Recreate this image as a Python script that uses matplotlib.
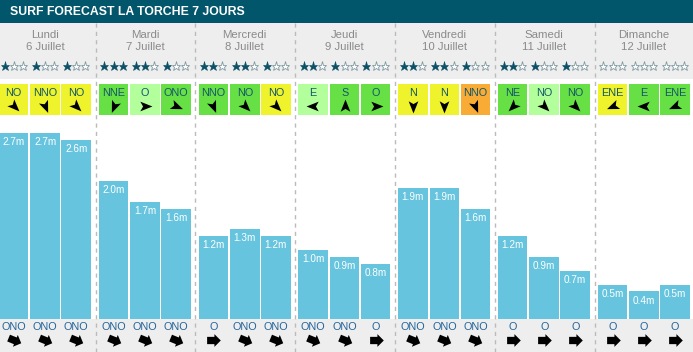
import numpy as np
import matplotlib.pyplot as plt
from matplotlib.path import Path
from matplotlib.markers import MarkerStyle
from matplotlib.transforms import Affine2D

plt.rcParams['font.family'] = ['Liberation Sans', 'DejaVu Sans']

title = "SURF FORECAST LA TORCHE 7 JOURS"
days = ["Lundi", "Mardi", "Mercredi", "Jeudi", "Vendredi", "Samedi", "Dimanche"]
dates = ["6 Juillet", "7 Juillet", "8 Juillet", "9 Juillet", "10 Juillet", "11 Juillet", "12 Juillet"]
stars = [[1, 1, 1], [3, 2, 1], [2, 2, 1], [2, 1, 1], [2, 2, 1], [2, 1, 1], [0, 0, 0]]
wind_dir = [["NO", "NNO", "NO"], ["NNE", "O", "ONO"], ["NNO", "NO", "NO"], ["E", "S", "O"],
            ["N", "N", "NNO"], ["NE", "NO", "NO"], ["ENE", "E", "ENE"]]
wind_rating = [["y", "y", "y"], ["g", "lg", "g"], ["g", "g", "y"], ["lg", "g", "g"],
               ["y", "y", "o"], ["g", "lg", "g"], ["y", "g", "g"]]
wave_m = [[2.7, 2.7, 2.6], [2.0, 1.7, 1.6], [1.2, 1.3, 1.2], [1.0, 0.9, 0.8],
          [1.9, 1.9, 1.6], [1.2, 0.9, 0.7], [0.5, 0.4, 0.5]]
swell_dir = [["ONO", "ONO", "ONO"], ["ONO", "ONO", "ONO"], ["O", "ONO", "ONO"], ["ONO", "ONO", "O"],
             ["ONO", "ONO", "ONO"], ["O", "O", "O"], ["O", "O", "O"]]

compass = {"N": 0, "NNE": 22.5, "NE": 45, "ENE": 67.5, "E": 90, "ESE": 112.5, "SE": 135,
           "SSE": 157.5, "S": 180, "SSO": 202.5, "SO": 225, "OSO": 247.5, "O": 270,
           "ONO": 292.5, "NO": 315, "NNO": 337.5}
box_colors = {"y": "#eef32c", "g": "#66e044", "lg": "#b2ff9c", "o": "#f8ac36"}

teal = "#02566b"
grey_bg = "#eeeeee"
bar_col = "#66c4de"

# layout (pixels)
W, H = 693, 352
day_w = 99.8
day0 = -4.3
offs = np.array([18, 49.5, 80.5])
xs = np.array([day0 + d * day_w + offs for d in range(7)])

dart = Path([(1, 0), (-0.75, 0.7), (-0.35, 0), (-0.75, -0.7), (1, 0)],
            [Path.MOVETO, Path.LINETO, Path.LINETO, Path.LINETO, Path.CLOSEPOLY])
block = Path([(-0.7, -0.4), (0.1, -0.4), (0.1, -0.7), (0.8, 0), (0.1, 0.7), (0.1, 0.4), (-0.7, 0.4), (-0.7, -0.4)],
             [Path.MOVETO] + [Path.LINETO] * 6 + [Path.CLOSEPOLY])


def arrow(ax, x, y, d, path, ms):
    ang = 270 - compass[d]
    m = MarkerStyle(path, transform=Affine2D().rotate_deg(ang))
    ax.plot(x, y, marker=m, ms=ms, color="black", mec="black", mew=0, ls="none")


fig = plt.figure(figsize=(W / 100, H / 100), dpi=100)
ax = fig.add_axes([0, 0, 1, 1])
ax.set_xlim(0, W)
ax.set_ylim(H, 0)
ax.axis("off")

ax.axhspan(0, 23, color=teal, lw=0)
ax.axhspan(23, 79, color=grey_bg, lw=0)
ax.axhspan(319, H, color=grey_bg, lw=0)
ax.text(10, 12, title, color="white", fontsize=8.8, fontweight="bold", va="center", ha="left")

for k in range(1, 7):
    sx = day0 + k * day_w
    ax.plot([sx, sx], [23, H], color="#bbbbbb", lw=1, ls=(0, (3, 3)))

for d in range(7):
    cx = day0 + d * day_w + 49.5
    ax.text(cx, 35, days[d], color="#8a8a8a", fontsize=8.2, ha="center", va="center")
    ax.text(cx, 47.5, dates[d], color="#8a8a8a", fontsize=8.2, ha="center", va="center")
    for s in range(3):
        x = xs[d, s]
        for j in range(3):
            sxp = x + (j - 1) * 9.2
            if j < stars[d][s]:
                ax.plot(sxp, 66, marker="*", ms=6.8, color="#0b5066", mec="#0b5066", mew=0.4, ls="none")
            else:
                ax.plot(sxp, 66, marker="*", ms=6.8, color="white", mec="#7f9aa3", mew=0.6, ls="none")
        # wind box
        ax.bar(x, 31, bottom=84, width=29.5, color=box_colors[wind_rating[d][s]], lw=0)
        ax.text(x, 92.5, wind_dir[d][s], color="#14566a", fontsize=7.8, ha="center", va="center")
        arrow(ax, x, 105.5, wind_dir[d][s], dart, 10)
        # swell
        ax.text(x, 327, swell_dir[d][s], color="#22649a", fontsize=7.8, ha="center", va="center")
        arrow(ax, x, 340, swell_dir[d][s], block, 10.5)

# wave bars in metres
bax = fig.add_axes([0, (H - 319) / H, 1, (319 - 79) / H])
bax.set_xlim(0, W)
bax.set_ylim(0, (319 - 79) / 69.0)
bax.axis("off")
bx = xs.ravel()
bh = np.array(wave_m).ravel()
bax.bar(bx, bh, width=29.5, color=bar_col, lw=0)
for x, h in zip(bx, bh):
    bax.annotate(f"{h:.1f}m", (x, h), xytext=(0, -6.6), textcoords="offset points",
                 color="white", fontsize=7.2, ha="center", va="center")

fig.savefig("out.png", dpi=100)
